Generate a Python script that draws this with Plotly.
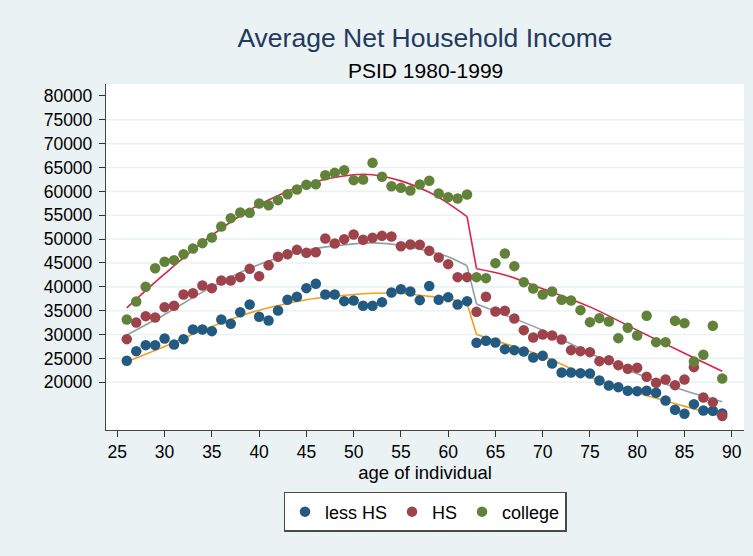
import plotly.graph_objects as go

# ---------------- data ----------------
ages = list(range(26, 90))

less_hs = [24500, 26520, 27780, 27780, 29180, 27920, 29040, 31060, 31060, 30710,
           33160, 32250, 34690, 36300, 33720, 32950, 35040, 37280, 37910, 39720,
           40630, 38390, 38390, 37000, 37140, 36020, 36020, 36790, 38810, 39510,
           39020, 37210, 40170, 37280, 37840, 36300, 37000, 28270, 28690, 28340,
           26940, 26730, 26450, 25200, 25550, 23940, 22050, 22050, 21910, 21840,
           20380, 19330, 18980, 18210, 18140, 18210, 17790, 16190, 14230, 13390,
           15420, 14090, 14020, 13460]

hs = [29040, 32530, 33860, 33580, 35740, 36020, 38390, 38670, 40280, 39720,
      41330, 41330, 42030, 43770, 42240, 44500, 46290, 46840, 47750, 47120,
      47260, 50130, 49080, 49990, 50960, 49850, 50270, 50680, 50540, 48520,
      48870, 48800, 47540, 46150, 44750, 42030, 42030, 34760, 37910, 34830,
      34970, 33370, 30920, 29390, 30010, 29800, 28970, 26730, 26520, 26310,
      24430, 24640, 23590, 22820, 23030, 21150, 19890, 20590, 19400, 20590,
      23170, 16820, 15840, 12910]

college = [33160, 36930, 40000, 43910, 45240, 45590, 46840, 48030, 49150, 50340,
           52640, 54390, 55570, 55500, 57460, 57110, 58160, 59410, 60390, 61370,
           61510, 63390, 63880, 64440, 62350, 62490, 65980, 63050, 61090, 60740,
           60180, 61440, 62210, 59550, 58790, 58510, 59340, 42030, 41820, 44960,
           46980, 44330, 40980, 39650, 38390, 39020, 37280, 37140, 35110, 32600,
           33440, 32740, 29250, 31410, 29810, 33930, 28410, 28410, 32880, 32390,
           24360, 25760, 31830, 20800]

# fitted lines (pre-retirement 26-62, post 63-89)
fit_ages = [26, 30, 34, 38, 41, 45, 50, 52, 55, 58, 60, 62,
            63, 66, 70, 75, 80, 85, 89]
college_fit = [35600, 42700, 49300, 54900, 58200, 61500, 63500, 63500, 62200, 59800, 57500, 54700,
               43800, 42500, 39600, 35800, 30900, 26100, 22300]
hs_fit = [29900, 34200, 38900, 43000, 45400, 47700, 49000, 49200, 48700, 47400, 46300, 44400,
          36400, 34100, 30900, 26100, 21800, 18300, 15900]
lesshs_fit = [24300, 27500, 30900, 33900, 35600, 37300, 38400, 38650, 38650, 38000, 37500, 36500,
              30000, 28100, 25500, 21100, 17800, 15000, 12800]

series_names = ["less HS", "HS", "college"]
x_ticks = list(range(25, 95, 5))
y_ticks = list(range(20000, 85000, 5000))

dot_colors = ["#235a82", "#9e434b", "#62823a"]
fit_colors = ["#f29f1e", "#8ea29f", "#d8234d"]

fig = go.Figure()

# fitted lines: spline on each segment, straight drop between 62 and 63
split = fit_ages.index(63)
for fit, col in zip([lesshs_fit, hs_fit, college_fit], fit_colors):
    segs = [(fit_ages[:split], fit[:split], "spline"),
            (fit_ages[split - 1:split + 1], fit[split - 1:split + 1], "linear"),
            (fit_ages[split:], fit[split:], "spline")]
    for xs, ys, shape in segs:
        fig.add_trace(go.Scatter(x=xs, y=ys, mode="lines", showlegend=False,
                                 hoverinfo="skip",
                                 line=dict(color=col, width=1.6, shape=shape, smoothing=1.0)))

for vals, name, col in zip([less_hs, hs, college], series_names, dot_colors):
    fig.add_trace(go.Scatter(x=ages, y=vals, mode="markers", name=name,
                             marker=dict(color=col, size=10.5, line=dict(width=0))))

# horizontal grid lines (none at the top tick)
for yv in y_ticks[:-1]:
    fig.add_shape(type="line", xref="paper", x0=0, x1=1, y0=yv, y1=yv,
                  line=dict(color="#eaf2f3", width=1.6), layer="below")

fig.update_layout(
    width=753, height=556,
    margin=dict(l=106, r=9, t=84, b=126),
    paper_bgcolor="#eaf2f3", plot_bgcolor="white",
    font=dict(family="Liberation Sans, Arial, sans-serif", color="black", size=17),
    title=dict(text="Average Net Household Income", x=0.5, xref="paper", xanchor="center",
               y=1 - 38 / 556, yref="container", yanchor="middle",
               font=dict(size=26.5, color="#23395d")),
    annotations=[dict(text="PSID 1980-1999", x=0.5, xref="paper", xanchor="center",
                      y=(430 - 70) / 346, yref="paper", yanchor="middle",
                      showarrow=False, font=dict(size=21, color="black"))],
    showlegend=True,
    legend=dict(orientation="h", x=0.5, xanchor="center", y=-0.179, yanchor="top",
                bgcolor="white", bordercolor="#4a4a4a", borderwidth=1.5,
                font=dict(size=18), itemwidth=30, tracegroupgap=0),
)

fig.update_xaxes(range=[23.8, 91.3], tickvals=x_ticks, ticks="outside", ticklen=6,
                 tickcolor="#333333", tickwidth=1.2, showline=True, linecolor="#444444",
                 linewidth=1.3, showgrid=False, zeroline=False,
                 title=dict(text="age of individual", font=dict(size=18.5), standoff=2),
                 automargin=False, tickfont=dict(size=17.5))
fig.update_yaxes(range=[10000, 82500], tickvals=y_ticks, tickformat="d", ticks="outside",
                 ticklen=6, tickcolor="#333333", tickwidth=1.2, showline=True,
                 linecolor="#444444", linewidth=1.3, showgrid=False, zeroline=False,
                 automargin=False, tickfont=dict(size=17.5), ticklabelstandoff=3)

fig.write_html("out.html", config={"displayModeBar": False},
               post_script="document.body.style.margin='0';document.body.style.background='#eaf2f3';")
